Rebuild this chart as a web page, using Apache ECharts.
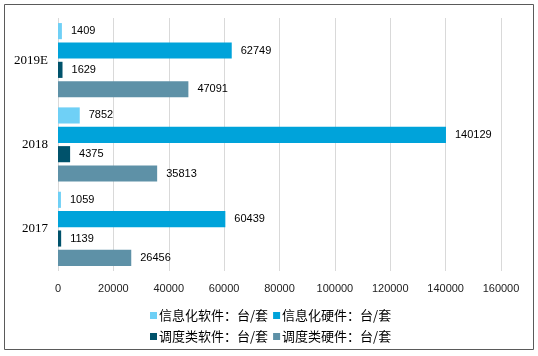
<!DOCTYPE html>
<html><head><meta charset="utf-8">
<script src="https://cdn.jsdelivr.net/npm/echarts@6/dist/echarts.min.js"></script>
<style>html,body{margin:0;padding:0;background:#fff}#c{width:538px;height:356px}</style>
</head><body><div id="c"></div>
<script>
const categories = ['2017', '2018', '2019E'];
const seriesNames = ['信息化软件：台/套', '信息化硬件：台/套', '调度类软件：台/套', '调度类硬件：台/套'];
const infoSoftware = [1059, 7852, 1409];
const infoHardware = [60439, 140129, 62749];
const dispatchSoftware = [1139, 4375, 1629];
const dispatchHardware = [26456, 35813, 47091];
const xTicks = [0, 20000, 40000, 60000, 80000, 100000, 120000, 140000, 160000];
const colors = ['#6fd0f6', '#00a3da', '#00526b', '#5e91a7'];
const values = [infoSoftware, infoHardware, dispatchSoftware, dispatchHardware];

const chart = echarts.init(document.getElementById('c'));
const series = [0, 1, 2, 3].map(i => ({
  name: seriesNames[i],
  type: 'bar',
  data: values[i],
  itemStyle: { color: colors[i] },
  barCategoryGap: '12%',
  barGap: '20%',
  label: { show: true, position: 'right', distance: 9, color: '#000', fontSize: 11, fontFamily: 'Liberation Sans' }
}));
chart.setOption({
  animation: false,
  color: colors,
  graphic: [{ type: 'rect', shape: { x: 4.5, y: 4.5, width: 529, height: 345 }, style: { fill: 'none', stroke: '#5a5a5a', lineWidth: 1 }, z: 100 }],
  grid: { left: 58, right: 37, top: 18, bottom: 85 },
  xAxis: {
    type: 'value', min: xTicks[0], max: xTicks[xTicks.length - 1], interval: 20000,
    axisLine: { show: false }, axisTick: { show: false },
    splitLine: { lineStyle: { color: '#d9d9d9' } },
    axisLabel: { color: '#222', fontSize: 11, fontFamily: 'Liberation Sans', margin: 12, formatter: v => String(v) }
  },
  yAxis: {
    type: 'category', data: categories,
    axisLine: { show: false }, axisTick: { show: false },
    axisLabel: { color: '#000', fontSize: 13, fontFamily: 'Liberation Serif', margin: 10 }
  },
  legend: [
    { data: [seriesNames[0], seriesNames[1]], left: 145, top: 304, icon: 'rect', itemWidth: 7, itemHeight: 7, itemGap: 5,
      textStyle: { fontSize: 13, color: '#000', fontFamily: 'Noto Sans CJK SC', padding: [0,0,0,-3] } },
    { data: [seriesNames[2], seriesNames[3]], left: 145, top: 325, icon: 'rect', itemWidth: 7, itemHeight: 7, itemGap: 5,
      textStyle: { fontSize: 13, color: '#000', fontFamily: 'Noto Sans CJK SC', padding: [0,0,0,-3] } }
  ],
  series: series
});
</script></body></html>
